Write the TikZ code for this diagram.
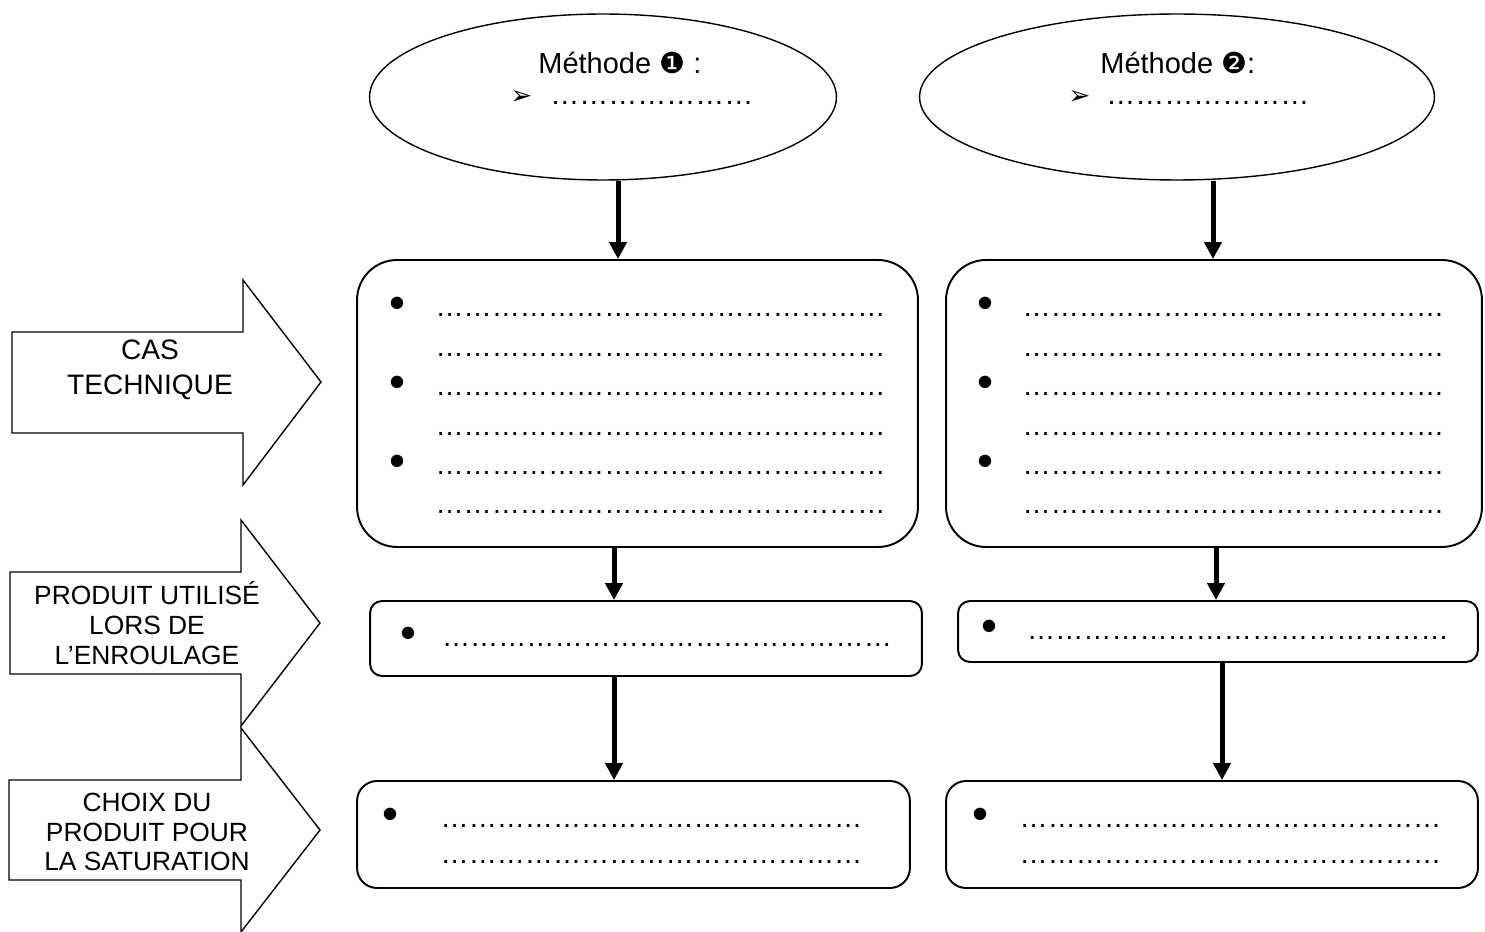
\documentclass[tikz,border=0pt]{standalone}
\usepackage{fontspec}
\setmainfont{Liberation Sans}
\newfontfamily\symb{DejaVu Sans}
\usetikzlibrary{arrows.meta, shapes.geometric, calc}

\newcommand\pts[1]{\foreach\k in {1,...,#1}{…}}
\newcommand\puce{\raisebox{-0.04cm}{\fontsize{26}{26}\selectfont •}}
\newcommand\baisse[1]{\raisebox{-0.08cm}[\height][\depth]{#1}}

\begin{document}
\begin{tikzpicture}[x=0.02cm, y=-0.02cm,
        methode/.style={ellipse, draw, line width=0.8pt, inner sep=0pt,
                        minimum height=3.32cm},
        cadre/.style={rectangle, draw, line width=1.1pt, inner sep=0pt,
                      font=\fontsize{16}{22.4}\selectfont},
        fleche/.style={-{Triangle[width=0.34cm, length=0.34cm]}, line width=0.1cm},
        contour/.style={draw, line width=0.8pt, line join=miter},
        etiquette/.style={align=center, inner sep=0pt, font=\fontsize{15}{17}\selectfont},
        texte/.style={anchor=base west, inner sep=0pt, font=\fontsize{16.5}{20}\selectfont},
    ]
    \useasboundingbox (0,0) rectangle (1485,932);

    % les deux methodes
    \node[methode, minimum width=9.34cm] (m1) at (603,97) {};
    \node[methode, minimum width=10.3cm] (m2) at (1177,97) {};
    \node[texte] (tm1) at (538,74) {Méthode {\symb ❶} :};
    \node[texte] (pm1) at (510,105) {\makebox[0.8cm][l]{\symb\fontsize{15}{15}\selectfont ➢}\pts{7}};
    \node[texte] (tm2) at (1100,74) {Méthode {\symb ❷}:};
    \node[texte] (pm2) at (1068,105) {\makebox[0.76cm][l]{\symb\fontsize{15}{15}\selectfont ➢}\pts{7}};

    % cas technique
    \node[cadre, rounded corners=0.8cm, minimum width=11.22cm, minimum height=5.74cm] (b1) at (637.5,403.5)
        {\baisse{\begin{tabular}{@{}p{0.92cm}@{}l@{}}
            \puce & \pts{16}\\ & \pts{16}\\ \puce & \pts{16}\\ & \pts{16}\\ \puce & \pts{16}\\ & \pts{16}
         \end{tabular}}};
    \node[cadre, rounded corners=0.8cm, minimum width=10.72cm, minimum height=5.74cm] (b2) at (1214,403.5)
        {\baisse{\begin{tabular}{@{}p{0.9cm}@{}l@{\hspace{0.12cm}}}
            \puce & \pts{15}\\ & \pts{15}\\ \puce & \pts{15}\\ & \pts{15}\\ \puce & \pts{15}\\ & \pts{15}
         \end{tabular}}};

    % produit utilise
    \node[cadre, rounded corners=0.24cm, minimum width=11.04cm, minimum height=1.5cm] (r1) at (646,638.5)
        {\begin{tabular}{@{}p{0.84cm}@{}l@{}} \puce & \pts{16} \end{tabular}};
    \node[cadre, rounded corners=0.24cm, minimum width=10.4cm, minimum height=1.22cm] (r2) at (1218,631.5)
        {\begin{tabular}{@{}p{0.92cm}@{}l@{\hspace{0.12cm}}} \puce & \pts{15} \end{tabular}};

    % choix du produit
    \node[cadre, rounded corners=0.4cm, minimum width=11.06cm, minimum height=2.14cm,
          font=\fontsize{16}{20.5}\selectfont] (c1) at (633.5,834.5)
        {\baisse{\begin{tabular}{@{}p{1.16cm}@{}l@{\hspace{0.44cm}}} \puce & \pts{15}\\ & \pts{15} \end{tabular}}};
    \node[cadre, rounded corners=0.4cm, minimum width=10.64cm, minimum height=2.14cm,
          font=\fontsize{16}{20.5}\selectfont] (c2) at (1212,834.5)
        {\baisse{\begin{tabular}{@{}p{0.94cm}@{}l@{\hspace{0.2cm}}} \puce & \pts{15}\\ & \pts{15} \end{tabular}}};

    \draw[fleche] ([xshift=0.3cm]m1.south) -- ([xshift=0.3cm]m1.south |- b1.north);
    \draw[fleche] ([xshift=-0.47cm]b1.south) -- ([xshift=-0.47cm]b1.south |- r1.north);
    \draw[fleche] ([xshift=-0.64cm]r1.south) -- ([xshift=-0.64cm]r1.south |- c1.north);
    \draw[fleche] ([xshift=0.72cm]m2.south) -- ([xshift=0.72cm]m2.south |- b2.north);
    \draw[fleche] ([xshift=0.04cm]b2.south) -- ([xshift=0.04cm]b2.south |- r2.north);
    \draw[fleche] ([xshift=0.08cm]r2.south) -- ([xshift=0.08cm]r2.south |- c2.north);

    % grandes fleches a gauche
    \draw[contour] (12,332) -- (243,332) -- (243,280) -- (321,382) -- (243,485) -- (243,433) -- (12,433) -- cycle;
    \node[etiquette, font=\fontsize{16}{19.9}\selectfont] (cas) at (150,370) {CAS\\TECHNIQUE};
    \draw[contour] (10,572) -- (241,572) -- (241,520) -- (320,623) -- (241,726) -- (241,674) -- (10,674) -- cycle;
    \node[etiquette] (prod) at (147,623) {PRODUIT UTILISÉ\\LORS DE\\L’ENROULAGE};
    \draw[contour] (9,780) -- (241,780) -- (241,728) -- (320,830) -- (241,932) -- (241,880) -- (9,880) -- cycle;
    \node[etiquette] (choix) at (147,832) {CHOIX DU\\PRODUIT POUR\\LA SATURATION};
\end{tikzpicture}
\end{document}
